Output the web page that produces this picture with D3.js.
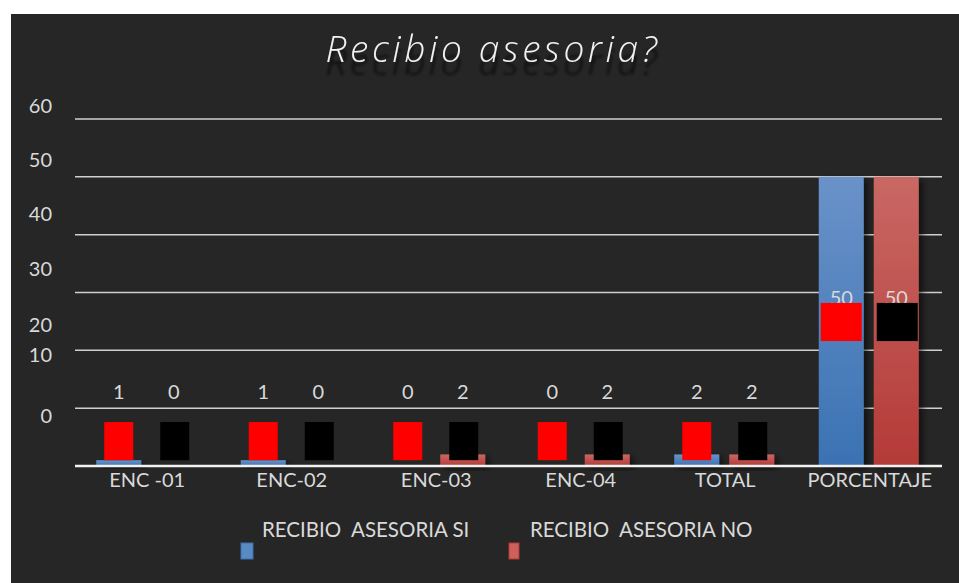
<!DOCTYPE html>
<html>
<head>
<meta charset="utf-8">
<script src="https://cdn.jsdelivr.net/npm/d3@7"></script>
<style>
  body { margin: 0; background: #ffffff; }
  svg { display: block; }
</style>
</head>
<body>
<div class="chart"></div>
<script>
//chart values
const categories = ["ENC -01", "ENC-02", "ENC-03", "ENC-04", "TOTAL", "PORCENTAJE"];
const valuesSi = [1, 1, 0, 0, 2, 50];
const valuesNo = [0, 0, 2, 2, 2, 50];
const seriesNames = ["RECIBIO  ASESORIA SI", "RECIBIO  ASESORIA NO"];
const tickValues = [0, 10, 20, 30, 40, 50, 60];
//the tick labels in the picture do not sit on their gridlines, this is where they sit (in axis units)
const tickLabelLevel = [8.6, 19.2, 24.3, 34.1, 43.6, 52.9, 62.3];
//the value labels and the red/black boxes pasted over the chart (in axis units)
const valueLabelLevel = [11.6, 11.6, 11.6, 11.6, 11.6, 27.8];
const boxLevel = [[1, 7.6], [1, 7.6], [1, 7.6], [1, 7.6], [1, 7.6], [21.6, 28.2]];

const createChart = () => {
    const width = 959, height = 583;
    const font = "Lato, 'Open Sans', sans-serif";
    const textColour = "#d9d9d9";

    const svg = d3.select(".chart").append("svg")
        .attr("width", width)
        .attr("height", height);

    const defs = svg.append("defs");

    const blueGrad = defs.append("linearGradient")
        .attr("id", "blueGrad").attr("x1", 0).attr("y1", 0).attr("x2", 0).attr("y2", 1);
    blueGrad.append("stop").attr("offset", "0%").attr("stop-color", "#6a92c9");
    blueGrad.append("stop").attr("offset", "100%").attr("stop-color", "#3a72b3");

    const redGrad = defs.append("linearGradient")
        .attr("id", "redGrad").attr("x1", 0).attr("y1", 0).attr("x2", 0).attr("y2", 1);
    redGrad.append("stop").attr("offset", "0%").attr("stop-color", "#c96864");
    redGrad.append("stop").attr("offset", "100%").attr("stop-color", "#b43a37");

    const shadow = defs.append("filter").attr("id", "shadow")
        .attr("x", "-20%").attr("y", "-20%").attr("width", "160%").attr("height", "160%");
    shadow.append("feDropShadow")
        .attr("dx", 4).attr("dy", 3).attr("stdDeviation", 3)
        .attr("flood-color", "#000").attr("flood-opacity", 0.55);

    //the title's dark blurred copy underneath
    const titleShadow = defs.append("filter").attr("id", "titleShadow")
        .attr("x", "-10%").attr("y", "-20%").attr("width", "120%").attr("height", "180%");
    titleShadow.append("feDropShadow")
        .attr("dx", 0).attr("dy", 13).attr("stdDeviation", 1.6)
        .attr("flood-color", "#050505").attr("flood-opacity", 0.75);

    //dark chart area, leaves a thin white edge top and left
    svg.append("rect")
        .attr("x", 11).attr("y", 14)
        .attr("width", width - 11).attr("height", height - 14)
        .attr("fill", "#262626");

    svg.append("text")
        .text("Recibio asesoria?")
        .attr("x", 493).attr("y", 62)
        .attr("text-anchor", "middle")
        .attr("font-family", "'Open Sans', Lato, sans-serif")
        .attr("font-style", "italic")
        .attr("font-weight", 300)
        .attr("font-size", 37)
        .attr("letter-spacing", 3.6)
        .attr("fill", "#f2f2f2")
        .attr("filter", "url(#titleShadow)");

    const x = d3.scaleBand()
        .domain(categories)
        .range([75, 942]);

    const y = d3.scaleLinear()
        .domain([0, 60])
        .range([466, 119]);

    //gridlines
    svg.selectAll(".grid")
        .data(tickValues.filter((t) => t > 0))
        .enter().append("line")
        .attr("class", "grid")
        .attr("x1", 75).attr("x2", 942)
        .attr("y1", (d) => y(d)).attr("y2", (d) => y(d))
        .attr("stroke", "#d0d0d0")
        .attr("stroke-width", 1.5);

    //tick labels
    svg.selectAll(".tick-label")
        .data(tickValues)
        .enter().append("text")
        .attr("class", "tick-label")
        .text((d) => d)
        .attr("x", 52)
        .attr("y", (d, i) => y(tickLabelLevel[i]))
        .attr("dy", "0.35em")
        .attr("text-anchor", "end")
        .attr("font-family", font)
        .attr("font-size", 20)
        .attr("fill", textColour);

    //bars
    const barWidth = 45;
    const offsets = [-28.5, 26.5];
    const series = [valuesSi, valuesNo];
    const fills = ["url(#blueGrad)", "url(#redGrad)"];

    series.forEach((vals, s) => {
        svg.append("g").selectAll("rect")
            .data(vals)
            .enter().append("rect")
            .attr("x", (d, i) => x(categories[i]) + x.bandwidth() / 2 + offsets[s] - barWidth / 2)
            .attr("y", (d) => y(d))
            .attr("width", barWidth)
            .attr("height", (d) => y(0) - y(d))
            .attr("fill", fills[s])
            .attr("filter", "url(#shadow)");
    });

    //baseline
    svg.append("line")
        .attr("x1", 75).attr("x2", 942)
        .attr("y1", y(0)).attr("y2", y(0))
        .attr("stroke", "#f2f2f2")
        .attr("stroke-width", 2.5);

    //value labels
    series.forEach((vals, s) => {
        svg.append("g").selectAll("text")
            .data(vals)
            .enter().append("text")
            .text((d) => d)
            .attr("x", (d, i) => x(categories[i]) + x.bandwidth() / 2 + offsets[s])
            .attr("y", (d, i) => y(valueLabelLevel[i]))
            .attr("text-anchor", "middle")
            .attr("font-family", font)
            .attr("font-size", 20)
            .attr("fill", textColour);
    });

    //the red and black boxes pasted on top
    const boxFills = ["#ff0000", "#000000"];
    series.forEach((vals, s) => {
        svg.append("g").selectAll("rect")
            .data(vals)
            .enter().append("rect")
            .attr("x", (d, i) => {
                const w = i === categories.length - 1 ? 41 : 29;
                return x(categories[i]) + x.bandwidth() / 2 + offsets[s] - w / 2 + (s === 0 ? 0 : 1);
            })
            .attr("y", (d, i) => y(boxLevel[i][1]))
            .attr("width", (d, i) => i === categories.length - 1 ? 41 : 29)
            .attr("height", (d, i) => y(boxLevel[i][0]) - y(boxLevel[i][1]))
            .attr("fill", boxFills[s]);
    });

    //category labels
    svg.selectAll(".cat-label")
        .data(categories)
        .enter().append("text")
        .attr("class", "cat-label")
        .text((d) => d)
        .attr("x", (d) => x(d) + x.bandwidth() / 2)
        .attr("y", 487)
        .attr("text-anchor", "middle")
        .attr("font-family", font)
        .attr("font-size", 20)
        .attr("fill", textColour);

    //legend
    const legendX = [241, 509];
    const legendColours = [["#5a8ac6", "#3b6fae"], ["#cf5f5b", "#b03a37"]];
    seriesNames.forEach((name, i) => {
        svg.append("rect")
            .attr("x", legendX[i]).attr("y", 543)
            .attr("width", i === 0 ? 12 : 10).attr("height", 16)
            .attr("fill", legendColours[i][0])
            .attr("stroke", legendColours[i][1])
            .attr("stroke-width", 1);

        svg.append("text")
            .text(name)
            .attr("x", legendX[i] + 21)
            .attr("y", 537)
            .attr("font-family", font)
            .attr("font-size", 20.5)
            .attr("fill", textColour)
            .style("white-space", "pre");
    });
};

createChart();
</script>
</body>
</html>
